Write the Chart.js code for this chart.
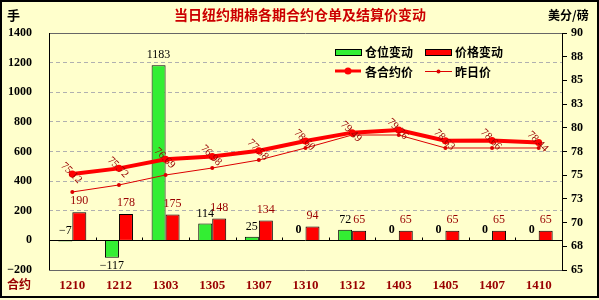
<!DOCTYPE html>
<html>
<head>
<meta charset="utf-8">
<script src="https://cdn.jsdelivr.net/npm/chart.js@4/dist/chart.umd.min.js"></script>
<style>
  html, body { margin: 0; padding: 0; background: #ffffcc; }
  #wrap { width: 599px; height: 300px; }
</style>
</head>
<body>
<div id="wrap"><canvas id="chart" width="599" height="300"></canvas></div>
<script>
"use strict";
const categories = ['1210', '1212', '1303', '1305', '1307', '1310', '1312', '1403', '1405', '1407', '1410'];
const stockChange = [-7, -117, 1183, 114, 25, 0, 72, 0, 0, 0, 0];
const priceChange = [190, 178, 175, 148, 134, 94, 65, 65, 65, 65, 65];
const settlePrice = [75.12, 75.72, 76.69, 76.98, 77.58, 78.60, 79.49, 79.76, 78.63, 78.66, 78.44];
const prevPrice = [73.23, 73.97, 75.02, 75.76, 76.60, 77.87, 79.24, 79.24, 77.87, 77.87, 77.87];

const titleText = '当日纽约期棉各期合约仓单及结算价变动';
const seriesNames = ['仓位变动', '价格变动', '各合约价', '昨日价'];

const serifFont = "'Liberation Serif', 'DejaVu Serif', serif";
const cjkFont = "'Noto Sans CJK SC', sans-serif";
const darkRed = '#990000';

function formatSigned(v) {
    return v < 0 ? '\u2212' + Math.abs(v) : String(v);
}

const decorPlugin = {
    id: 'decor',
    beforeDraw(chart) {
        const ctx = chart.ctx;
        ctx.save();
        ctx.fillStyle = '#ffffcc';
        ctx.fillRect(0, 0, chart.width, chart.height);
        ctx.restore();
    },
    afterDatasetsDraw(chart) {
        const ctx = chart.ctx;
        const area = chart.chartArea;
        const yScale = chart.scales.y;
        const zeroY = Math.round(yScale.getPixelForValue(0)) + 0.5;
        ctx.save();
        // zero line with small ticks between categories
        ctx.strokeStyle = '#000';
        ctx.lineWidth = 1;
        ctx.beginPath();
        ctx.moveTo(area.left, zeroY);
        ctx.lineTo(area.right, zeroY);
        const step = (area.right - area.left) / categories.length;
        for (let i = 1; i < categories.length; i++) {
            const bx = Math.round(area.left + i * step) + 0.5;
            ctx.moveTo(bx, zeroY);
            ctx.lineTo(bx, zeroY - 3);
        }
        ctx.stroke();

        // plot frame
        ctx.strokeStyle = '#666';
        ctx.beginPath();
        ctx.moveTo(area.left, Math.round(area.top) + 0.5);
        ctx.lineTo(area.right, Math.round(area.top) + 0.5);
        ctx.moveTo(area.left, Math.round(area.bottom) + 0.5);
        ctx.lineTo(area.right, Math.round(area.bottom) + 0.5);
        ctx.stroke();
        ctx.strokeStyle = '#000';
        ctx.beginPath();
        ctx.moveTo(Math.round(area.left) + 0.5, area.top);
        ctx.lineTo(Math.round(area.left) + 0.5, area.bottom);
        ctx.moveTo(Math.round(area.right) + 0.5, area.top);
        ctx.lineTo(Math.round(area.right) + 0.5, area.bottom);
        ctx.stroke();

        // bar value labels
        ctx.textAlign = 'center';
        ctx.textBaseline = 'middle';
        const greenMeta = chart.getDatasetMeta(0);
        const redMeta = chart.getDatasetMeta(1);
        greenMeta.data.forEach((bar, i) => {
            const v = stockChange[i];
            const y = v > -20 ? Math.min(bar.y, bar.base) - 10 : bar.y + 8;
            ctx.fillStyle = '#000';
            ctx.font = (v === 0 ? 'bold ' : '') + '12px ' + serifFont;
            ctx.fillText(formatSigned(v), bar.x, y);
        });
        redMeta.data.forEach((bar, i) => {
            ctx.fillStyle = darkRed;
            ctx.font = '12px ' + serifFont;
            ctx.fillText(String(priceChange[i]), bar.x, bar.y - 11);
        });

        // rotated price labels
        const lineMeta = chart.getDatasetMeta(2);
        ctx.fillStyle = darkRed;
        ctx.font = '11px ' + serifFont;
        lineMeta.data.forEach((pt, i) => {
            ctx.save();
            ctx.translate(pt.x - 1, pt.y - 1);
            ctx.rotate(Math.PI / 4);
            ctx.fillText(settlePrice[i].toFixed(2), 0, 0);
            ctx.restore();
        });
        ctx.restore();
    },
    afterDraw(chart) {
        const ctx = chart.ctx;
        ctx.save();
        ctx.textBaseline = 'middle';

        // title and unit labels
        ctx.textAlign = 'center';
        ctx.fillStyle = '#cc0000';
        ctx.font = 'bold 14px ' + cjkFont;
        ctx.fillText(titleText, 300, 15);
        ctx.textAlign = 'left';
        ctx.fillStyle = '#000';
        ctx.font = 'bold 13px ' + cjkFont;
        ctx.fillText('手', 7, 15);
        ctx.font = 'bold 12px ' + cjkFont;
        ctx.fillText('美分/磅', 548, 15);
        ctx.fillStyle = darkRed;
        ctx.fillText('合约', 7, 284);

        // legend
        ctx.strokeStyle = '#000';
        ctx.lineWidth = 1;
        ctx.fillStyle = '#33ee33';
        ctx.fillRect(335.5, 49.5, 26, 6);
        ctx.strokeRect(335.5, 49.5, 26, 6);
        ctx.fillStyle = '#ff0000';
        ctx.fillRect(425.5, 49.5, 26, 6);
        ctx.strokeRect(425.5, 49.5, 26, 6);

        ctx.strokeStyle = '#ff0000';
        ctx.lineWidth = 3;
        ctx.beginPath();
        ctx.moveTo(335, 71);
        ctx.lineTo(361, 71);
        ctx.stroke();
        ctx.fillStyle = '#ff0000';
        ctx.beginPath();
        ctx.arc(348, 71, 3.5, 0, Math.PI * 2);
        ctx.fill();

        ctx.strokeStyle = '#dd0000';
        ctx.lineWidth = 1;
        ctx.beginPath();
        ctx.moveTo(425, 71.5);
        ctx.lineTo(452, 71.5);
        ctx.stroke();
        ctx.fillStyle = '#dd0000';
        ctx.beginPath();
        ctx.arc(438.5, 71.5, 2, 0, Math.PI * 2);
        ctx.fill();

        ctx.fillStyle = '#000';
        ctx.font = 'bold 12px ' + cjkFont;
        ctx.fillText(seriesNames[0], 365, 52);
        ctx.fillText(seriesNames[1], 455, 52);
        ctx.fillText(seriesNames[2], 365, 72);
        ctx.fillText(seriesNames[3], 455, 72);

        // outer frame
        ctx.strokeStyle = '#000';
        ctx.lineWidth = 2;
        ctx.strokeRect(1, 1, 597, 296);
        ctx.restore();
    }
};

const chart = new Chart(document.querySelector('#chart'), {
    type: 'bar',
    data: {
        labels: categories,
        datasets: [
            {
                label: seriesNames[0],
                data: stockChange,
                yAxisID: 'y',
                backgroundColor: '#33ee33',
                borderColor: '#000',
                borderWidth: 1,
                categoryPercentage: 0.6,
                barPercentage: 1,
                order: 2
            },
            {
                label: seriesNames[1],
                data: priceChange,
                yAxisID: 'y',
                backgroundColor: '#ff0000',
                borderColor: '#000',
                borderWidth: 1,
                categoryPercentage: 0.6,
                barPercentage: 1,
                order: 2
            },
            {
                type: 'line',
                label: seriesNames[2],
                data: settlePrice,
                yAxisID: 'y1',
                borderColor: '#ff0000',
                borderWidth: 4,
                pointRadius: 3.5,
                pointBackgroundColor: '#ff0000',
                pointBorderWidth: 0,
                order: 0
            },
            {
                type: 'line',
                label: seriesNames[3],
                data: prevPrice,
                yAxisID: 'y1',
                borderColor: '#dd0000',
                borderWidth: 1,
                pointRadius: 2,
                pointBackgroundColor: '#dd0000',
                pointBorderWidth: 0,
                order: 1
            }
        ]
    },
    options: {
        responsive: false,
        devicePixelRatio: 1,
        animation: false,
        layout: { padding: { top: 33, left: 0, right: 0, bottom: 0 } },
        plugins: {
            legend: { display: false },
            title: { display: false },
            tooltip: { enabled: false }
        },
        scales: {
            x: {
                grid: { display: false, drawTicks: false },
                border: { display: false },
                ticks: {
                    color: darkRed,
                    font: { family: serifFont, size: 13, weight: 'bold' },
                    padding: 8,
                    maxRotation: 0,
                    autoSkip: false
                },
                afterFit(scale) { scale.height = 30; }
            },
            y: {
                position: 'left',
                min: -200,
                max: 1400,
                grid: { color: '#b0b0b0', drawTicks: false },
                border: { display: false, dash: [4, 3] },
                ticks: {
                    stepSize: 200,
                    color: '#000',
                    padding: 17,
                    font: { family: serifFont, size: 12, weight: 'bold' },
                    callback: (value) => formatSigned(value)
                },
                afterFit(scale) { scale.width = 49; }
            },
            y1: {
                position: 'right',
                min: 65,
                max: 90,
                grid: { drawOnChartArea: false, color: '#000', tickLength: 5 },
                border: { display: false },
                ticks: {
                    stepSize: 2.5,
                    color: '#000',
                    padding: 4,
                    font: { family: serifFont, size: 12, weight: 'bold' },
                    callback: (value) => String(Math.round(value))
                },
                afterFit(scale) { scale.width = 37; }
            }
        }
    },
    plugins: [decorPlugin]
});
</script>
</body>
</html>
